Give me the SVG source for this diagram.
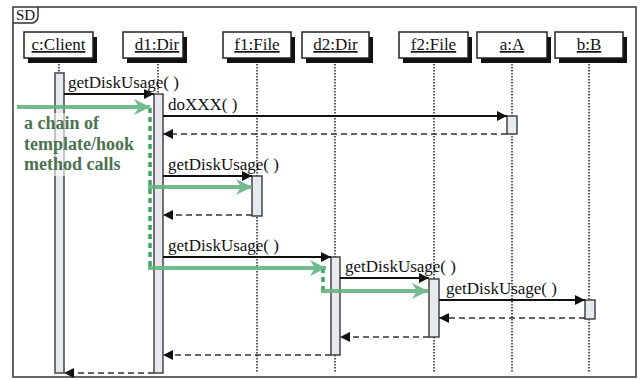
<svg xmlns="http://www.w3.org/2000/svg" width="640" height="380" viewBox="0 0 640 380">
  <style>
    .frame { fill: none; stroke: #333; stroke-width: 1.5; }
    .head { fill: #fff; stroke: #222; stroke-width: 1.5; }
    .shadow { fill: #111; }
    .htxt { font-family: "Liberation Serif", "Times New Roman", serif; font-size: 17px; fill: #111; text-anchor: middle; text-decoration: underline; }
    .life { stroke: #222; stroke-width: 1.5; stroke-dasharray: 1.5 1.5; fill: none; }
    .bar { fill: #e8e9ef; stroke: #444; stroke-width: 1.5; }
    .msg { stroke: #111; stroke-width: 1.8; fill: none; marker-end: url(#solid); }
    .ret { stroke: #333; stroke-width: 1.5; stroke-dasharray: 6 4; fill: none; marker-end: url(#solid); }
    .mtxt { font-family: "Liberation Serif", "Times New Roman", serif; font-size: 17px; fill: #111; }
    .gdash { stroke: #3ba55c; stroke-width: 3.5; stroke-dasharray: 5 4; fill: none; }
    .garrow { stroke: #62b482; stroke-width: 4; fill: none; opacity: 0.9; marker-end: url(#green); }
    .gtxt { font-family: "Liberation Serif", "Times New Roman", serif; font-size: 18px; font-weight: bold; fill: #4b7350; }
  </style>
  <defs>
    <marker id="solid" markerUnits="userSpaceOnUse" markerWidth="10" markerHeight="10" refX="10" refY="5" orient="auto">
      <path d="M0,0 L10,5 L0,10 z" fill="#111"/>
    </marker>
    <marker id="green" markerUnits="userSpaceOnUse" markerWidth="18" markerHeight="16" refX="16" refY="8" orient="auto">
      <path d="M0,0 L16,8 L0,16 L5,8 z" fill="#62b482"/>
    </marker>
  </defs>

  <rect width="640" height="380" fill="#fff"/>

  <!-- sequence diagram frame with its SD tab -->
  <g id="frame">
    <rect class="frame" x="13" y="7" width="623" height="370"/>
    <path class="frame" d="M13,23 H33 Q38,21 38,16 V7"/>
    <text x="16" y="20" font-family="Liberation Serif, serif" font-size="15" fill="#111">SD</text>
  </g>

  <!-- lifelines -->
  <g id="lifelines">
    <line class="life" x1="59" y1="58" x2="59" y2="373"/>
    <line class="life" x1="158" y1="58" x2="158" y2="373"/>
    <line class="life" x1="257" y1="58" x2="257" y2="373"/>
    <line class="life" x1="335" y1="58" x2="335" y2="373"/>
    <line class="life" x1="434" y1="58" x2="434" y2="373"/>
    <line class="life" x1="512" y1="58" x2="512" y2="373"/>
    <line class="life" x1="589" y1="58" x2="589" y2="373"/>
  </g>

  <!-- participants -->
  <g id="client">
    <rect class="shadow" x="28" y="37" width="69" height="26"/>
    <rect class="head" x="24" y="32" width="69" height="26"/>
    <text class="htxt" x="58.5" y="50">c:Client</text>
    <rect class="bar" x="55" y="73" width="9" height="300"/>
  </g>
  <g id="d1">
    <rect class="shadow" x="127" y="37" width="60" height="26"/>
    <rect class="head" x="123" y="32" width="60" height="26"/>
    <text class="htxt" x="157" y="50">d1:Dir</text>
    <rect class="bar" x="154" y="94" width="9" height="279"/>
  </g>
  <g id="f1">
    <rect class="shadow" x="227" y="37" width="68" height="26"/>
    <rect class="head" x="223" y="32" width="68" height="26"/>
    <text class="htxt" x="257" y="50">f1:File</text>
    <rect class="bar" x="252" y="176" width="10" height="40"/>
  </g>
  <g id="d2">
    <rect class="shadow" x="306" y="37" width="67" height="26"/>
    <rect class="head" x="302" y="32" width="67" height="26"/>
    <text class="htxt" x="335.5" y="50">d2:Dir</text>
    <rect class="bar" x="331" y="257" width="9" height="98"/>
  </g>
  <g id="f2">
    <rect class="shadow" x="403" y="37" width="69" height="26"/>
    <rect class="head" x="399" y="32" width="69" height="26"/>
    <text class="htxt" x="433.5" y="50">f2:File</text>
    <rect class="bar" x="429" y="279" width="10" height="58"/>
  </g>
  <g id="a">
    <rect class="shadow" x="481" y="37" width="70" height="26"/>
    <rect class="head" x="477" y="32" width="70" height="26"/>
    <text class="htxt" x="512" y="50">a:A</text>
    <rect class="bar" x="507" y="116" width="10" height="18"/>
  </g>
  <g id="b">
    <rect class="shadow" x="559" y="37" width="68" height="26"/>
    <rect class="head" x="555" y="32" width="68" height="26"/>
    <text class="htxt" x="589" y="50">b:B</text>
    <rect class="bar" x="585" y="300" width="10" height="19"/>
  </g>

  <!-- messages and returns -->
  <g id="connectors">
    <line class="msg" x1="64" y1="94" x2="154" y2="94"/>
    <text class="mtxt" x="68" y="88">getDiskUsage( )</text>

    <line class="msg" x1="163" y1="116" x2="507" y2="116"/>
    <text class="mtxt" x="168" y="110">doXXX( )</text>
    <line class="ret" x1="507" y1="134" x2="163" y2="134"/>

    <line class="msg" x1="163" y1="176" x2="252" y2="176"/>
    <text class="mtxt" x="168" y="170">getDiskUsage( )</text>
    <line class="ret" x1="252" y1="215" x2="163" y2="215"/>

    <line class="msg" x1="163" y1="257" x2="331" y2="257"/>
    <text class="mtxt" x="168" y="251">getDiskUsage( )</text>

    <line class="msg" x1="340" y1="278" x2="429" y2="278"/>
    <text class="mtxt" x="345" y="272">getDiskUsage( )</text>

    <line class="msg" x1="439" y1="300" x2="585" y2="300"/>
    <text class="mtxt" x="446" y="294">getDiskUsage( )</text>
    <line class="ret" x1="585" y1="318" x2="439" y2="318"/>

    <line class="ret" x1="429" y1="337" x2="340" y2="337"/>
    <line class="ret" x1="331" y1="355" x2="163" y2="355"/>
    <line class="ret" x1="154" y1="373" x2="64" y2="373"/>
  </g>

  <!-- template/hook call chain annotation -->
  <g id="chain">
    <rect x="20" y="113" width="122" height="63" fill="#fff" opacity="0.6"/>
    <path class="gdash" d="M150,108 V268"/>
    <path class="gdash" d="M323,268 V291"/>
    <line class="garrow" x1="17" y1="107" x2="150" y2="107"/>
    <line class="garrow" x1="148" y1="187" x2="252" y2="187"/>
    <line class="garrow" x1="148" y1="268" x2="326" y2="268"/>
    <line class="garrow" x1="321" y1="291" x2="428" y2="291"/>
    <text class="gtxt" x="24" y="129">a chain of</text>
    <text class="gtxt" x="24" y="150">template/hook</text>
    <text class="gtxt" x="24" y="170">method calls</text>
  </g>
</svg>
